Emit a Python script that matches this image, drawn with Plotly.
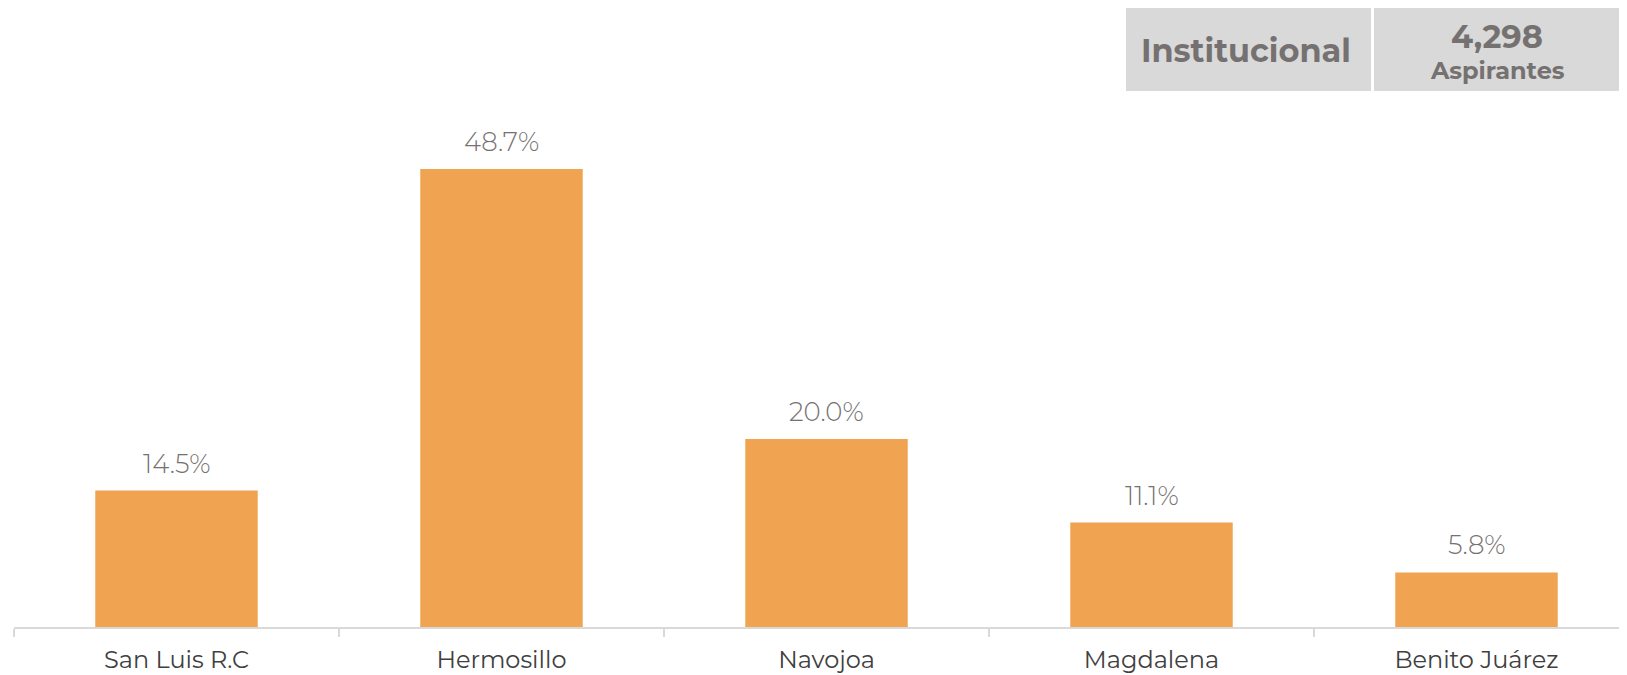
import plotly.graph_objects as go

categories = ["San Luis R.C", "Hermosillo", "Navojoa", "Magdalena", "Benito Juárez"]
values = [14.5, 48.7, 20.0, 11.1, 5.8]
header_title = "Institucional"
header_total = "4,298"
header_unit = "Aspirantes"

W, H = 1627, 675
OFF = 8  # page body margin
ml, mr, mt, mb = 14 - OFF, 0, 100 - OFF, H - (627 - OFF)
pw = W - ml - mr
ph = H - mt - mb

def px2paper_x(px):
    return (px - OFF - ml) / pw

def px2paper_y(py):
    return (H - mb - (py - OFF)) / ph

FONT = "Montserrat, Open Sans, sans-serif"
GRAY = "#767171"

fig = go.Figure()
fig.add_trace(go.Bar(
    x=categories, y=values, width=0.5,
    marker=dict(color="#F0A451", line=dict(width=0)),
    hoverinfo="skip",
))

annotations = []
for c, v in zip(categories, values):
    annotations.append(dict(
        x=c, y=v, xref="x", yref="y", text=f"{v:.1f}%", showarrow=False,
        yanchor="bottom", yshift=9,
        font=dict(family=FONT, size=26, color=GRAY, weight=300),
    ))

shapes = []
boxes = [(1126, 1371), (1374, 1620)]
for x0, x1 in boxes:
    shapes.append(dict(
        type="rect", xref="paper", yref="paper",
        x0=px2paper_x(x0), x1=px2paper_x(x1),
        y0=px2paper_y(91), y1=px2paper_y(6),
        fillcolor="#D9D9D9", line=dict(width=0), layer="above",
    ))

annotations.append(dict(
    x=px2paper_x(1246), y=px2paper_y(51), xref="paper", yref="paper",
    text=f"<b>{header_title}</b>", showarrow=False, xanchor="center", yanchor="middle",
    font=dict(family=FONT, size=32, color=GRAY),
))
annotations.append(dict(
    x=px2paper_x(1497), y=px2paper_y(36), xref="paper", yref="paper",
    text=f"<b>{header_total}</b>", showarrow=False, xanchor="center", yanchor="middle",
    font=dict(family=FONT, size=32, color=GRAY),
))
annotations.append(dict(
    x=px2paper_x(1497), y=px2paper_y(70), xref="paper", yref="paper",
    text=f"<b>{header_unit}</b>", showarrow=False, xanchor="center", yanchor="middle",
    font=dict(family=FONT, size=24, color=GRAY),
))

fig.update_layout(
    width=W, height=H,
    margin=dict(l=ml, r=mr, t=mt, b=mb, pad=0),
    paper_bgcolor="white", plot_bgcolor="white",
    showlegend=False,
    annotations=annotations,
    shapes=shapes,
    xaxis=dict(
        type="category",
        range=[-0.5, -0.5 + pw / 325.0],
        showline=True, linecolor="#D9D9D9", linewidth=2,
        ticks="outside", tickson="boundaries", ticklen=8, tickcolor="#D9D9D9", tickwidth=1.5,
        ticklabelstandoff=10,
        showgrid=False, zeroline=False,
        tickfont=dict(family=FONT, size=24, color="#404040"),
    ),
    yaxis=dict(
        range=[0, 56.03], visible=False, showgrid=False, zeroline=False,
    ),
)

fig.write_html("out.html")
